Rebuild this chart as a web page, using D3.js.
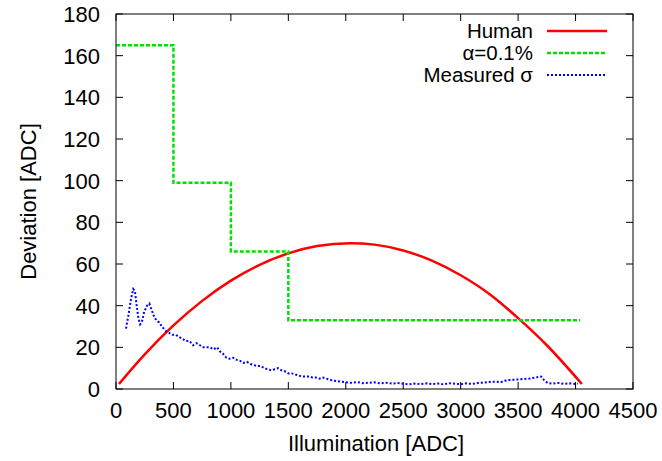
<!DOCTYPE html>
<html>
<head>
<meta charset="utf-8">
<script src="https://cdn.jsdelivr.net/npm/d3@7"></script>
<style>
  body { margin: 0; background: white; }
  text { font-family: "Liberation Sans", Arial, sans-serif; }
</style>
</head>
<body>
<div id="chart"></div>
<script>
// data
const humanX = [26, 250, 500, 750, 1000, 1250, 1500, 1750, 2040, 2250, 2500, 2750, 3000, 3250, 3500, 3750, 4055]
const humanY = [2.4, 16.6, 30.5, 42.3, 52, 59.6, 65.1, 68.6, 70, 69.3, 66.5, 61.6, 54.6, 45.6, 34, 21, 2.4]

const alphaX = [0, 500, 1000, 1500, 4040]
const alphaY = [165, 99, 66, 33, 33]

const sigmaX = [87, 110, 130, 150, 165, 180, 195, 210, 225, 245, 270, 290, 310, 330, 350, 375, 400, 430, 460, 490,
  520, 550, 580, 610, 640, 670, 700, 730, 760, 790, 820, 850, 880, 905, 930, 960, 990, 1020, 1050, 1080,
  1110, 1140, 1170, 1200, 1230, 1260, 1290, 1320, 1350, 1380, 1410, 1440, 1470, 1500, 1530, 1560, 1590, 1620, 1650, 1680,
  1710, 1740, 1770, 1800, 1830, 1860, 1890, 1920, 1960, 2000, 2050, 2100, 2150, 2200, 2250, 2300, 2350, 2400, 2450, 2500,
  2550, 2600, 2650, 2700, 2750, 2800, 2850, 2900, 2950, 3000, 3050, 3100, 3150, 3200, 3250, 3300, 3350, 3400, 3450, 3500,
  3550, 3600, 3650, 3700, 3730, 3760, 3800, 3850, 3900, 3950, 4000, 4020]
const sigmaY = [29, 36, 43, 48, 47, 40, 34, 31, 32, 37, 40, 41, 38, 35, 33, 32, 30, 28, 27, 26,
  26, 25, 24, 23, 23, 21, 22, 21, 20, 20, 20, 19, 20, 18, 17, 15, 14.5, 15, 14, 13.5,
  12.5, 13, 12, 11.5, 11, 11, 10, 9.5, 9, 9.5, 10, 9, 8.5, 7.5, 7.5, 7, 6.5, 6, 6, 6,
  5.5, 5.5, 5, 5.5, 5, 4.5, 4, 3.8, 3.5, 3.2, 3, 3.3, 2.8, 3, 3.2, 2.7, 3, 2.6, 2.9, 2.5,
  2.2, 2.6, 2.3, 2.7, 2.4, 2.6, 2.2, 2.8, 2.5, 2.3, 2.7, 2.4, 2.9, 3, 3.4, 3.5, 3.3, 4.2, 4.4, 4.6,
  4.8, 5, 5.5, 6, 4, 2.8, 2.6, 2.9, 2.5, 2.7, 2.4, 2.6]

const xTicks = [0, 500, 1000, 1500, 2000, 2500, 3000, 3500, 4000, 4500]
const yTicks = [0, 20, 40, 60, 80, 100, 120, 140, 160, 180]

const legendNames = ['Human', 'α=0.1%', 'Measured σ']
const legendColors = ['#ff0000', '#00e000', '#0000ff']

const W = 662, H = 461
const mLeft = 116, mRight = 633, mTop = 14, mBottom = 389
const tickLen = 7
const fs = 22

const svg = d3.select('#chart').append('svg')
  .attr('width', W).attr('height', H)

const x = d3.scaleLinear().domain([0, 4500]).range([mLeft, mRight])
const y = d3.scaleLinear().domain([0, 180]).range([mBottom, mTop])

// ticks (gnuplot style, inward, mirrored)
let tickG = svg.append('g').attr('stroke', '#000').attr('stroke-width', 1)
xTicks.forEach(t => {
  tickG.append('line').attr('x1', x(t)).attr('x2', x(t)).attr('y1', mBottom).attr('y2', mBottom - tickLen)
  tickG.append('line').attr('x1', x(t)).attr('x2', x(t)).attr('y1', mTop).attr('y2', mTop + tickLen)
})
yTicks.forEach(t => {
  tickG.append('line').attr('x1', mLeft).attr('x2', mLeft + tickLen).attr('y1', y(t)).attr('y2', y(t))
  tickG.append('line').attr('x1', mRight).attr('x2', mRight - tickLen).attr('y1', y(t)).attr('y2', y(t))
})

svg.selectAll('.xl').data(xTicks).enter().append('text')
  .attr('x', d => x(d)).attr('y', 418)
  .attr('text-anchor', 'middle')
  .attr('font-size', fs)
  .text(d => d)

svg.selectAll('.yl').data(yTicks).enter().append('text')
  .attr('x', 100).attr('y', d => y(d) + 8)
  .attr('text-anchor', 'end')
  .attr('font-size', fs)
  .text(d => d)

svg.append('text')
  .attr('x', 376).attr('y', 451)
  .attr('text-anchor', 'middle').attr('font-size', fs)
  .text('Illumination [ADC]')

svg.append('text')
  .attr('transform', 'translate(36,' + ((mTop + mBottom) / 2) + ') rotate(-90)')
  .attr('text-anchor', 'middle').attr('font-size', fs)
  .text('Deviation [ADC]')

// series
svg.append('path')
  .datum(d3.zip(humanX, humanY))
  .attr('d', d3.line().x(d => x(d[0])).y(d => y(d[1])).curve(d3.curveMonotoneX))
  .attr('fill', 'none').attr('stroke', legendColors[0]).attr('stroke-width', 2.5)

svg.append('path')
  .datum(d3.zip(alphaX, alphaY))
  .attr('d', d3.line().x(d => x(d[0])).y(d => y(d[1])).curve(d3.curveStepAfter))
  .attr('fill', 'none').attr('stroke', legendColors[1]).attr('stroke-width', 2.5)
  .attr('stroke-dasharray', '4,2')

svg.append('path')
  .datum(d3.zip(sigmaX, sigmaY))
  .attr('d', d3.line().x(d => x(d[0])).y(d => y(d[1])))
  .attr('fill', 'none').attr('stroke', legendColors[2]).attr('stroke-width', 2)
  .attr('stroke-dasharray', '2,2')

// legend
let leg = svg.selectAll('.leg').data(legendNames).enter().append('g')
  .attr('transform', (d, i) => 'translate(0,' + (31 + i * 22) + ')')
leg.append('text')
  .attr('x', 533).attr('y', 7)
  .attr('text-anchor', 'end').attr('font-size', 20.5)
  .text(d => d)
leg.append('line')
  .attr('x1', 547).attr('x2', 607).attr('y1', 0).attr('y2', 0)
  .attr('stroke', (d, i) => legendColors[i])
  .attr('stroke-width', (d, i) => i === 2 ? 2 : 2.5)
  .attr('stroke-dasharray', (d, i) => i === 0 ? null : (i === 1 ? '4,2' : '2,2'))

// frame
svg.append('rect')
  .attr('x', mLeft).attr('y', mTop).attr('width', mRight - mLeft).attr('height', mBottom - mTop)
  .attr('fill', 'none').attr('stroke', '#000').attr('stroke-width', 1)
</script>
</body>
</html>
